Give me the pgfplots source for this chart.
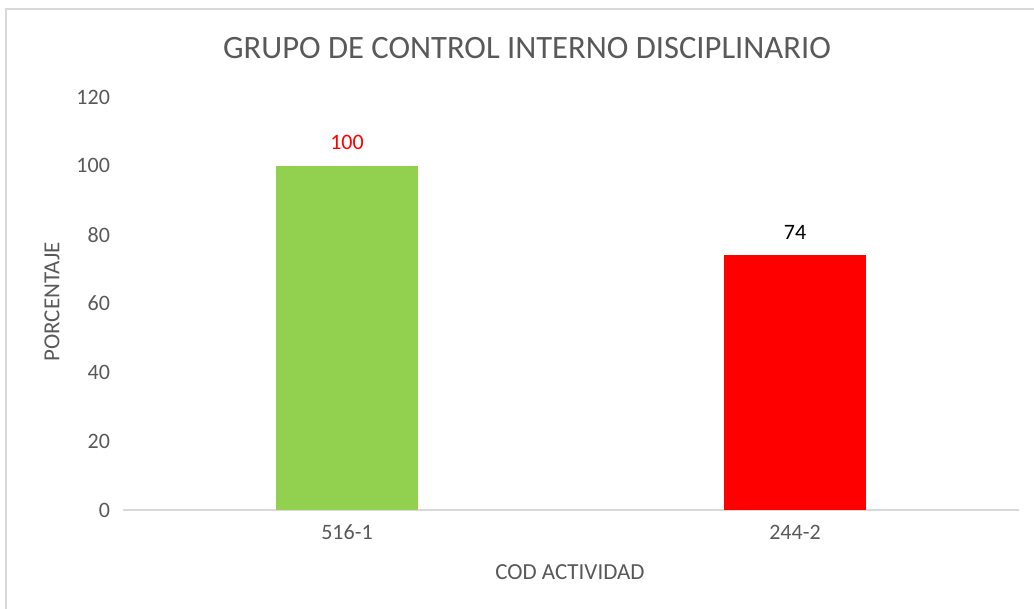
\documentclass[border=0pt]{standalone}
\usepackage{pgfplots}
\pgfplotsset{compat=1.18}
\usepackage{fontspec}
\setmainfont{Carlito}
\definecolor{txt}{HTML}{595959}
\definecolor{gridc}{HTML}{D9D9D9}
\definecolor{bargreen}{HTML}{92D050}
\definecolor{barred}{HTML}{FF0000}
\begin{document}
\begin{tikzpicture}[x=0.5pt,y=0.5pt]
\useasboundingbox (0,0) rectangle (1034,609);
\begin{scope}
\clip (0,0) rectangle (1034,609);
\draw[gridc, line width=1pt] (6,-20) -- (6,599.5) -- (1060,599.5);
\end{scope}
\begin{axis}[
  at={(61.5pt,49.5pt)}, anchor=south west,
  scale only axis, width=448pt, height=206.5pt,
  xmin=-0.5, xmax=1.5, ymin=0, ymax=120,
  xtick={0,1}, xticklabels={516-1,244-2},
  ytick={0,20,40,60,80,100,120},
  axis x line*=bottom, axis y line*=left,
  y axis line style={draw=none},
  x axis line style={gridc, line width=0.75pt},
  major tick length=0pt,
  tick label style={font=\fontsize{11}{13}\selectfont, text=txt},
  /pgf/number format/assume math mode=true,
  yticklabel style={xshift=-3pt},
  xticklabel style={yshift=-4pt},
  clip=false,
]
\addplot[ybar, bar width=71pt, bar shift=0pt, fill=bargreen, draw=none,
  nodes near coords, nodes near coords style={font=\fontsize{11}{13}\selectfont, text=red, yshift=4.5pt}]
  coordinates {(0,100)};
\addplot[ybar, bar width=71pt, bar shift=0pt, fill=barred, draw=none,
  nodes near coords, nodes near coords style={font=\fontsize{11}{13}\selectfont, text=black, yshift=4.5pt}]
  coordinates {(1,74)};
\end{axis}
\node[text=txt, font=\fontsize{16.3}{19}\selectfont] at (527,561) {GRUPO DE CONTROL INTERNO DISCIPLINARIO};
\node[text=txt, font=\fontsize{11.5}{13}\selectfont] at (570,37) {COD ACTIVIDAD};
\node[text=txt, font=\fontsize{11.5}{13}\selectfont, rotate=90] at (52,307) {PORCENTAJE};
\end{tikzpicture}
\end{document}
